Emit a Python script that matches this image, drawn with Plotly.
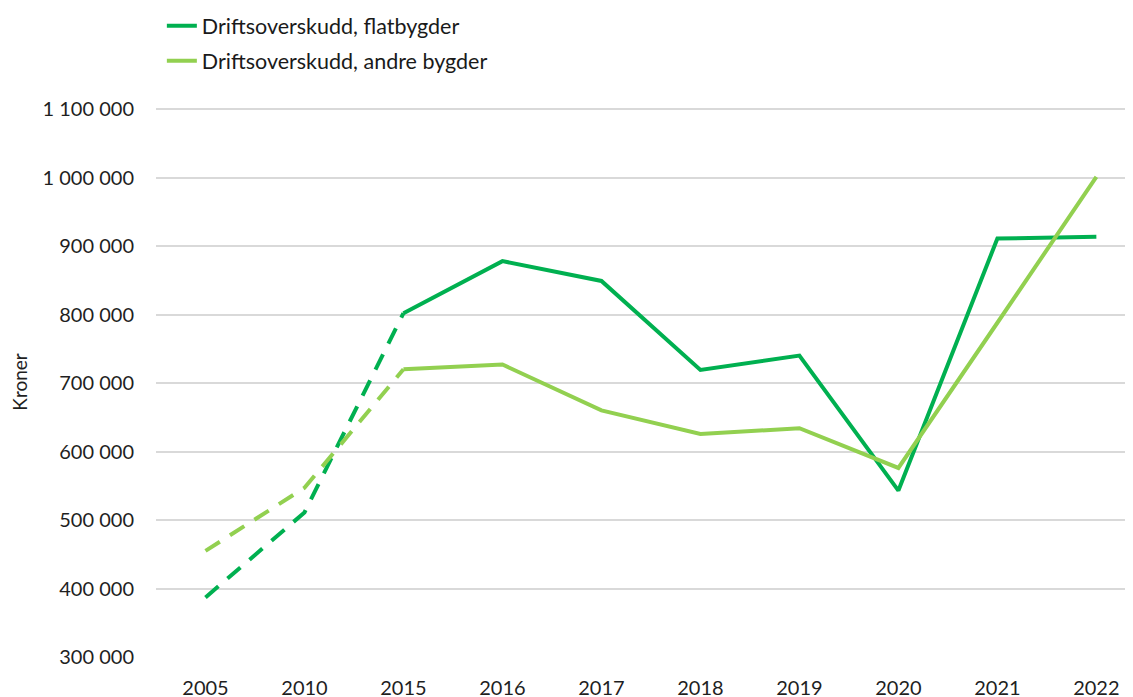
import plotly.graph_objects as go

years = ["2005", "2010", "2015", "2016", "2017", "2018", "2019", "2020", "2021", "2022"]
flatbygder = [387000, 511000, 802000, 878000, 849000, 719000, 740000, 543000, 911000, 913500]
andre_bygder = [455000, 547000, 720000, 727000, 660000, 625500, 634000, 576000, 788000, 1001000]

name_flat = "Driftsoverskudd, flatbygder"
name_andre = "Driftsoverskudd, andre bygder"

c_flat = "#00B050"
c_andre = "#92D050"
split = 2  # index where dashed part ends and solid begins

fig = go.Figure()
for vals, name, col, grp in [(flatbygder, name_flat, c_flat, "a"), (andre_bygder, name_andre, c_andre, "b")]:
    fig.add_trace(go.Scatter(
        x=years[:split + 1], y=vals[:split + 1], mode="lines",
        line=dict(color=col, width=4, dash="17px,12px"),
        showlegend=False, legendgroup=grp, hoverinfo="skip"))
    fig.add_trace(go.Scatter(
        x=years[split:], y=vals[split:], mode="lines", name=name,
        line=dict(color=col, width=4), legendgroup=grp))

font = "Lato, 'Open Sans', sans-serif"
fig.update_layout(
    width=1125, height=689,
    margin=dict(l=148, r=0, t=99, b=40, autoexpand=False),
    paper_bgcolor="white", plot_bgcolor="white",
    separators=", ",
    font=dict(family=font, size=20, color="#1f1f1f"),
    showlegend=True,
    legend=dict(x=0.006, y=1.185, xanchor="left", yanchor="top",
                yref="paper", font=dict(size=21.5, color="#1a1a1a"),
                traceorder="grouped", tracegroupgap=4,
                bgcolor="rgba(0,0,0,0)"),
    xaxis=dict(type="category", categoryorder="array", categoryarray=years,
               range=[-0.5, 9.37], showgrid=False, showline=False, zeroline=False,
               ticks="", ticklabelstandoff=17, tickfont=dict(size=20),
               automargin=False),
    yaxis=dict(range=[300000, 1103000], dtick=100000, tickformat=",d",
               showgrid=True, gridcolor="#d9d9d9", gridwidth=2,
               zeroline=False, showline=False, ticks="", ticklabelstandoff=21,
               tickfont=dict(size=20), automargin=False,
               title=dict(text="Kroner", font=dict(size=19), standoff=14)),
)
fig.write_html("out.html")
